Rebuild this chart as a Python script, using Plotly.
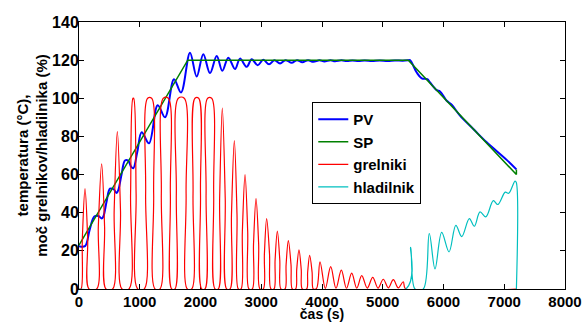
import plotly.graph_objects as go

# ---- data ----
# PV (process value, temperature)
pv_t = [0, 99, 175, 252, 320, 375, 401, 455, 510, 570, 620, 648, 700, 757, 810, 860, 894, 960,
        1032, 1152, 1296, 1416, 1564, 1679, 1827, 1937, 2046, 2156, 2267, 2359, 2458, 2568,
        2650, 2760, 2843, 2941, 3034, 3128, 3215, 3309, 3402, 3501, 3588, 3676, 3770, 3857,
        3959, 4038, 4140, 4214, 4320, 4410, 4500, 4600, 4700, 4820, 4950, 5080, 5200, 5330, 5421,
        5449, 5559, 5641, 5733, 5778, 5888, 5943, 6053, 6135, 6272, 6491, 6711, 7040, 7200]
pv_v = [22.5, 22.5, 31, 38, 38.3, 37, 38, 46, 52.6, 52.3, 50.3, 52, 60, 67.4, 67.3, 64, 63.3, 72,
        82.2, 76.4, 96.4, 90, 110, 103, 123.9, 111.4, 123.1, 113.2, 122.2, 114.4, 121.3, 115.3,
        120.8, 116.5, 120.5, 117.3, 120.2, 117.8, 120.0, 118.3, 120.0, 118.6, 120.0, 118.9, 120.0, 119.1,
        119.9, 119.3, 119.9, 119.4, 119.9, 119.5, 119.8, 119.5, 119.8, 119.6, 119.8, 119.6, 119.8, 119.7, 119.9,
        120, 113.5, 110.5, 110, 108.3, 104.3, 103.6, 98.7, 96.6, 90.9, 83.9, 76.9, 67.7, 62.7]

# SP (set point)
sp_t = [0, 1790, 5421, 7200, 7200]
sp_v = [23, 120, 120, 60, 62.7]

# grelniki (heater power, %)
gr_t = [0, 33, 55, 99, 143, 165,
        291, 318, 373, 421, 444,
        554, 579, 631, 683, 708,
        823, 849, 888, 900, 940, 966,
        1075, 1097, 1130, 1196, 1229, 1251,
        1333, 1355, 1388, 1470, 1504, 1526,
        1580, 1602, 1635, 1733, 1763, 1783,
        1855, 1877, 1909, 1970, 2000, 2020,
        2074, 2092, 2118, 2184, 2217, 2239,
        2293, 2315, 2359, 2407, 2431,
        2486, 2510, 2557, 2601, 2623,
        2667, 2689, 2733, 2777, 2798,
        2853, 2873, 2914, 2957, 2979,
        3034, 3052, 3089, 3136, 3160,
        3210, 3228, 3265, 3305, 3325,
        3391, 3409, 3446, 3490, 3512,
        3566, 3584, 3621, 3658, 3676,
        3747, 3764, 3797, 3837, 3857,
        3910, 3967, 4055, 4143, 4230, 4318, 4403, 4489, 4572, 4654, 4745,
        4835, 4922, 5009, 5092, 5174, 5256, 5338, 5378, 7200]
gr_v = [0, 0, 26.3, 52.6, 26.3, 0,
        0, 32.8, 65.6, 32.8, 0,
        0, 41.3, 82.5, 41.3, 0,
        0, 50, 100, 100, 50, 0,
        0, 50, 100, 100, 50, 0,
        0, 50, 100, 100, 50, 0,
        0, 50, 100, 100, 50, 0,
        0, 50, 100, 100, 50, 0,
        0, 50, 100, 100, 50, 0,
        0, 47.5, 94.9, 47.5, 0,
        0, 38.9, 77.8, 38.9, 0,
        0, 30, 60, 30, 0,
        0, 23.7, 47.4, 23.7, 0,
        0, 18.5, 36.9, 18.5, 0,
        0, 15.2, 30.4, 15.2, 0,
        0, 12.7, 25.4, 12.7, 0,
        0, 10.3, 20.5, 10.3, 0,
        0, 8.8, 17.6, 8.8, 0,
        0.3, 14.3, 0.3, 11.7, 0.4, 9.9, 0.4, 8.3, 0.5, 7.0, 0.5,
        6.1, 0.5, 5.1, 0.6, 4.9, 0.6, 3.8, 0, 0]

# hladilnik (cooler power, %)
hl_t = [0, 5383, 5460, 5531, 5668, 5766, 5860, 5970, 6091, 6203, 6300, 6425, 6507,
        6601, 6697, 6820, 6894, 7017, 7073, 7177, 7197, 7200]
hl_v = [0, 0, 21.8, 0, 0, 29.1, 10.5, 29.7, 19.5, 33.4, 27.5, 36.9, 32.9,
        40.4, 37.8, 46.3, 44.3, 50.8, 50.2, 56.6, 56.0, 0]

x_ticks = [0, 1000, 2000, 3000, 4000, 5000, 6000, 7000, 8000]
y_ticks = [0, 20, 40, 60, 80, 100, 120, 140]

FONT = "Liberation Sans, Arial, Helvetica, sans-serif"

fig = go.Figure()
fig.add_trace(go.Scatter(x=pv_t, y=pv_v, name="PV", mode="lines",
                         line=dict(color="#0000FF", width=2, shape="spline", smoothing=1)))
fig.add_trace(go.Scatter(x=sp_t, y=sp_v, name="SP", mode="lines",
                         line=dict(color="#008000", width=1.5)))
fig.add_trace(go.Scatter(x=gr_t, y=gr_v, name="grelniki", mode="lines",
                         line=dict(color="#FF0000", width=1.2, shape="spline", smoothing=1)))
fig.add_trace(go.Scatter(x=hl_t, y=hl_v, name="hladilnik", mode="lines",
                         line=dict(color="#00BFBF", width=1.2, shape="spline", smoothing=1)))

axis_common = dict(showgrid=False, zeroline=False, showline=True, linecolor="black", linewidth=1,
                   mirror="ticks", ticks="inside", ticklen=5, tickcolor="black", tickwidth=1,
                   layer="below traces", automargin=False)

fig.update_layout(
    width=585, height=322,
    margin=dict(l=79, r=20, t=22, b=33),
    paper_bgcolor="white", plot_bgcolor="white",
    font=dict(family=FONT, color="black"),
    showlegend=True,
    legend=dict(x=0.48, y=0.70, xanchor="left", yanchor="top",
                bgcolor="white", bordercolor="black", borderwidth=1,
                font=dict(family=FONT, size=15, color="black", weight="bold"),
                itemwidth=30, tracegroupgap=0),
    xaxis=dict(range=[0, 8000], tickvals=x_ticks, ticklabelstandoff=-1,
               tickfont=dict(family=FONT, size=15, color="black", weight="bold"),
               title=dict(text="čas (s)", standoff=3,
                          font=dict(family=FONT, size=14, color="black", weight="bold")),
               **axis_common),
    yaxis=dict(range=[0, 140], tickvals=y_ticks, ticklabelstandoff=-4,
               tickfont=dict(family=FONT, size=16, color="black", weight="bold"),
               title=dict(text="temperatura (°C),<br>moč grelnikov/hladilnika (%)", standoff=0,
                          font=dict(family=FONT, size=15, color="black", weight="bold")),
               **axis_common),
)

fig.write_html("out.html")
